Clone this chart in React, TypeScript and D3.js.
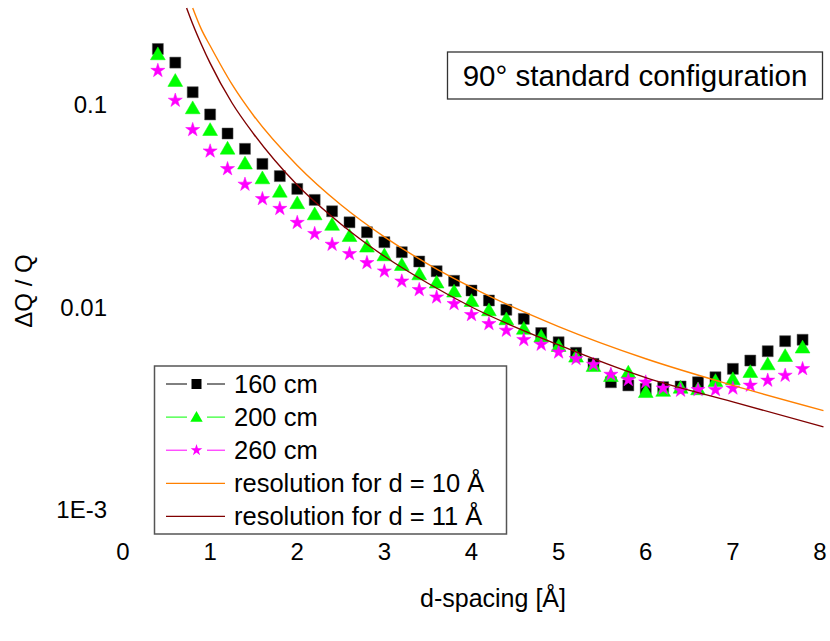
import React from "react";
import * as d3 from "d3";

const dSpacing = [0.4,0.6,0.8,1.0,1.2,1.4,1.6,1.8,2.0,2.2,2.4,2.6,2.8,3.0,3.2,3.4,3.6,3.8,4.0,4.2,4.4,4.6,4.8,5.0,5.2,5.4,5.6,5.8,6.0,6.2,6.4,6.6,6.8,7.0,7.2,7.4,7.6,7.8];
const s160 = [0.188,0.161,0.115,0.0893,0.0719,0.0604,0.0509,0.0443,0.0383,0.0338,0.0297,0.0262,0.0234,0.0209,0.01865,0.01678,0.01502,0.01347,0.01206,0.01077,0.00969,0.00874,0.00744,0.0067,0.00594,0.00524,0.00425,0.0041,0.00394,0.00402,0.00405,0.00425,0.0045,0.00495,0.00544,0.00605,0.00678,0.00689];
const s200 = [0.1746,0.129,0.0945,0.0738,0.0597,0.0504,0.0426,0.0366,0.0321,0.0283,0.0251,0.0221,0.0196,0.01776,0.0159,0.0143,0.01302,0.01175,0.01056,0.0095,0.00858,0.0077,0.00705,0.00633,0.00561,0.00504,0.0045,0.00468,0.00375,0.0038,0.00394,0.00387,0.00425,0.00434,0.00471,0.00514,0.00565,0.00622];
const s260 = [0.147,0.1047,0.075,0.0588,0.0481,0.0403,0.0342,0.0306,0.0261,0.023,0.02035,0.0183,0.01653,0.01502,0.0134,0.01216,0.01118,0.01037,0.00915,0.00826,0.00766,0.00689,0.00653,0.00598,0.00555,0.0052,0.00464,0.00437,0.00425,0.00397,0.00387,0.0039,0.0039,0.00397,0.0041,0.00434,0.00459,0.00495];

const res10X = [0.80,0.9,1.0,1.25,1.5,2.0,2.5,3.0,3.5,4.0,5.0,6.0,7.0,8.04];
const res10Y = [0.30,0.235,0.195,0.126,0.088,0.050,0.032,0.0222,0.0163,0.0125,0.0080,0.00555,0.0041,0.00308];
const res11X = [0.73,0.8,0.9,1.0,1.25,1.5,2.0,2.5,3.0,3.5,4.0,5.0,6.0,7.0,8.04];
const res11Y = [0.30,0.25,0.198,0.160,0.102,0.0715,0.040,0.0257,0.0178,0.0131,0.0100,0.0065,0.00448,0.0034,0.00256];

const xTicks = [0,1,2,3,4,5,6,7,8];
const yTicks = [0.1,0.01,0.001];
const yTickLabels = ["0.1","0.01","1E-3"];

const FONT = "Liberation Sans, Arial, sans-serif";

export default function App() {
  const W = 830, H = 641;
  const x = d3.scaleLinear().domain([0, 8]).range([123, 820]);
  const y = d3.scaleLog().domain([0.001, 0.1]).range([509.5, 104.5]);

  const sq = d3.symbol().type(d3.symbolSquare).size(121)();
  const tri = d3.symbol().type(d3.symbolTriangle).size(95)();
  const star = d3.symbol().type(d3.symbolStar).size(62)();
  const sqL = d3.symbol().type(d3.symbolSquare).size(100)();
  const triL = d3.symbol().type(d3.symbolTriangle).size(66)();
  const starL = d3.symbol().type(d3.symbolStar).size(42)();

  const line = d3.line<[number, number]>().x(d => x(d[0])).y(d => y(d[1])).curve(d3.curveMonotoneX);
  const p10 = line(res10X.map((v, i) => [v, res10Y[i]]))!;
  const p11 = line(res11X.map((v, i) => [v, res11Y[i]]))!;

  const series = [
    { vals: s160, path: sq, color: "#000000" },
    { vals: s200, path: tri, color: "#00ff00" },
    { vals: s260, path: star, color: "#ff00ff" },
  ];

  const legend = [
    { label: "160 cm", color: "#000000", sym: sqL, fill: "#000000", dy: 0 },
    { label: "200 cm", color: "#00ff00", sym: triL, fill: "#00ff00", dy: 1 },
    { label: "260 cm", color: "#ff00ff", sym: starL, fill: "#ff00ff", dy: 0 },
    { label: "resolution for d = 10 Å", color: "#ff8000", sym: null, fill: "", dy: 0 },
    { label: "resolution for d = 11 Å", color: "#800000", sym: null, fill: "", dy: 0 },
  ];

  return (
    <svg width={W} height={H} style={{ position: "absolute", left: 0, top: 0, background: "#fff" }} fontFamily={FONT}>
      <defs>
        <clipPath id="plotclip">
          <rect x={0} y={7} width={830} height={560} />
        </clipPath>
      </defs>
      {series.map((s, si) => (
        <g key={si}>
          {s.vals.map((v, i) => (
            <path key={i} d={s.path} transform={`translate(${x(dSpacing[i])},${y(v)})`} fill={s.color} stroke={si === 0 ? "#555" : s.color} strokeWidth={0.5} />
          ))}
        </g>
      ))}
      <g clipPath="url(#plotclip)">
        <path d={p10} fill="none" stroke="#ff8000" strokeWidth={1.4} />
        <path d={p11} fill="none" stroke="#800000" strokeWidth={1.4} />
      </g>

      {xTicks.map(t => (
        <text key={t} x={x(t)} y={560} textAnchor="middle" fontSize={24} fill="#000">{t}</text>
      ))}
      {yTicks.map((t, i) => (
        <text key={t} x={107} y={y(t) + 8.5} textAnchor="end" fontSize={24} fill="#000">{yTickLabels[i]}</text>
      ))}
      <text x={493} y={607} textAnchor="middle" fontSize={25} fill="#000">d-spacing [Å]</text>
      <text transform="translate(32,291) rotate(-90)" textAnchor="middle" fontSize={24} fill="#000">ΔQ / Q</text>

      <rect x={447.5} y={52} width={375} height={47} fill="#fff" stroke="#333" strokeWidth={1.3} />
      <text x={635} y={86} textAnchor="middle" fontSize={29.5} fill="#000">90° standard configuration</text>

      <rect x={154.5} y={366} width={352} height={168} fill="#fff" stroke="#555" strokeWidth={1.5} />
      {legend.map((l, i) => {
        const cy = 384 + i * 33.1;
        return (
          <g key={i}>
            {l.sym ? (
              <>
                <line x1={166} x2={187} y1={cy} y2={cy} stroke={l.color} strokeWidth={1} />
                <line x1={207} x2={225} y1={cy} y2={cy} stroke={l.color} strokeWidth={1} />
                <path d={l.sym} transform={`translate(196.5,${cy + l.dy})`} fill={l.fill} />
              </>
            ) : (
              <line x1={166} x2={225} y1={cy} y2={cy} stroke={l.color} strokeWidth={1.3} />
            )}
            <text x={234} y={cy + 9} fontSize={25.5} fill="#000">{l.label}</text>
          </g>
        );
      })}
    </svg>
  );
}
